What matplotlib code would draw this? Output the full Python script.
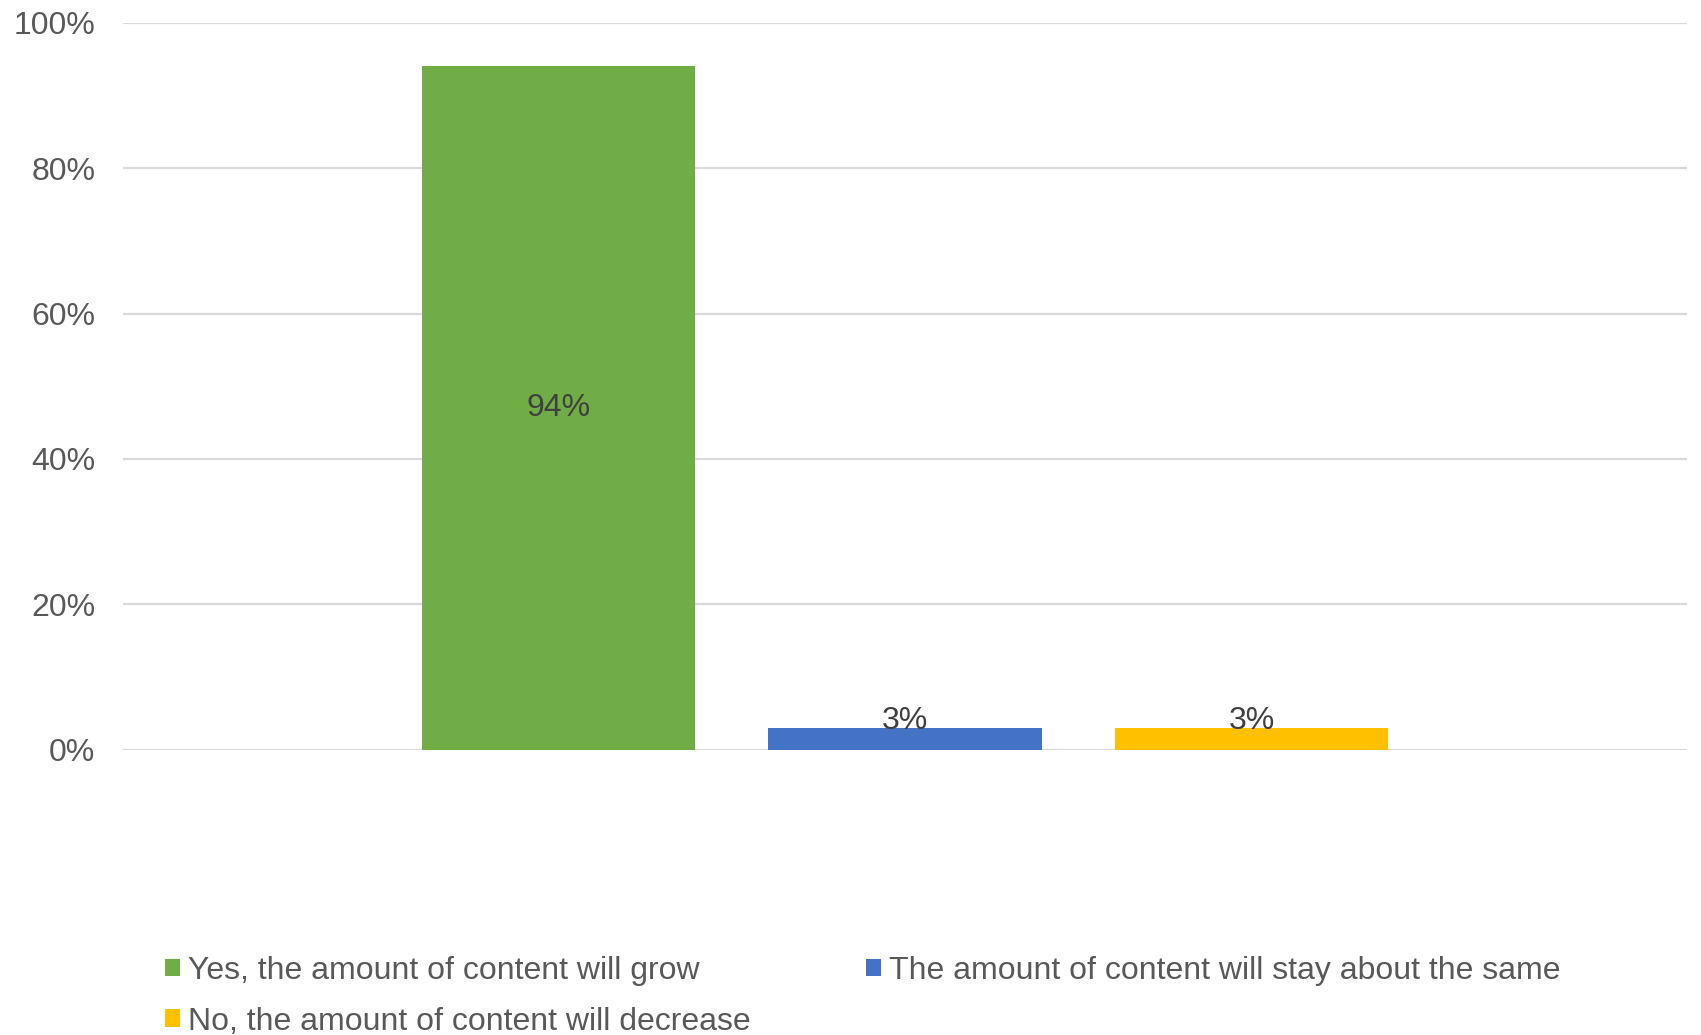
import matplotlib
matplotlib.use("Agg")
import matplotlib.pyplot as plt
from matplotlib.ticker import PercentFormatter
from matplotlib.patches import Patch

plt.rcParams['font.family'] = ['Liberation Sans', 'DejaVu Sans']

answers = ["Yes, the amount of content will grow",
           "The amount of content will stay about the same",
           "No, the amount of content will decrease"]
shares = [94, 3, 3]
colors = ["#70ad47", "#4472c4", "#ffc000"]

yticks = [0, 20, 40, 60, 80, 100]

fig = plt.figure(figsize=(17.01, 10.35), dpi=100)
ax = fig.add_axes([0.0723, 0.2757, 0.9195, 0.7023])

xs = list(range(len(shares)))
bars = ax.bar(xs, shares, width=0.788, color=colors, zorder=3)

for x, v in zip(xs, shares):
    if v > 10:
        ax.text(x, v / 2, f"{v}%", ha='center', va='center',
                fontsize=23, color='#404040', zorder=4)
    else:
        ax.annotate(f"{v}%", (x, v), xytext=(0, 5), textcoords='offset points',
                    ha='center', va='center', fontsize=23, color='#404040', zorder=4)

ax.set_xlim(-1.257, 3.257)
ax.set_ylim(0, 100)
ax.set_yticks(yticks)
ax.yaxis.set_major_formatter(PercentFormatter(decimals=0))
ax.set_xticks([])
ax.tick_params(axis='y', length=0, pad=20, labelsize=23, labelcolor='#595959')
ax.grid(axis='y', color='#d9d9d9', linewidth=1.6, zorder=0)
for s in ax.spines.values():
    s.set_visible(False)

# legend fills column-wise, so order entries to read row by row
order = [0, 2, 1]
handles = [Patch(facecolor=colors[i], edgecolor='none') for i in order]
labels = [answers[i] for i in order]
fig.legend(handles, labels, loc='upper left', bbox_to_anchor=(0.097, 0.0765),
           ncol=2, frameon=False, fontsize=23, labelcolor='#595959',
           handlelength=0.47, handleheight=0.47, handletextpad=0.25,
           columnspacing=3.6, labelspacing=0.65, borderpad=0, borderaxespad=0)

fig.savefig("out.png", dpi=100)
